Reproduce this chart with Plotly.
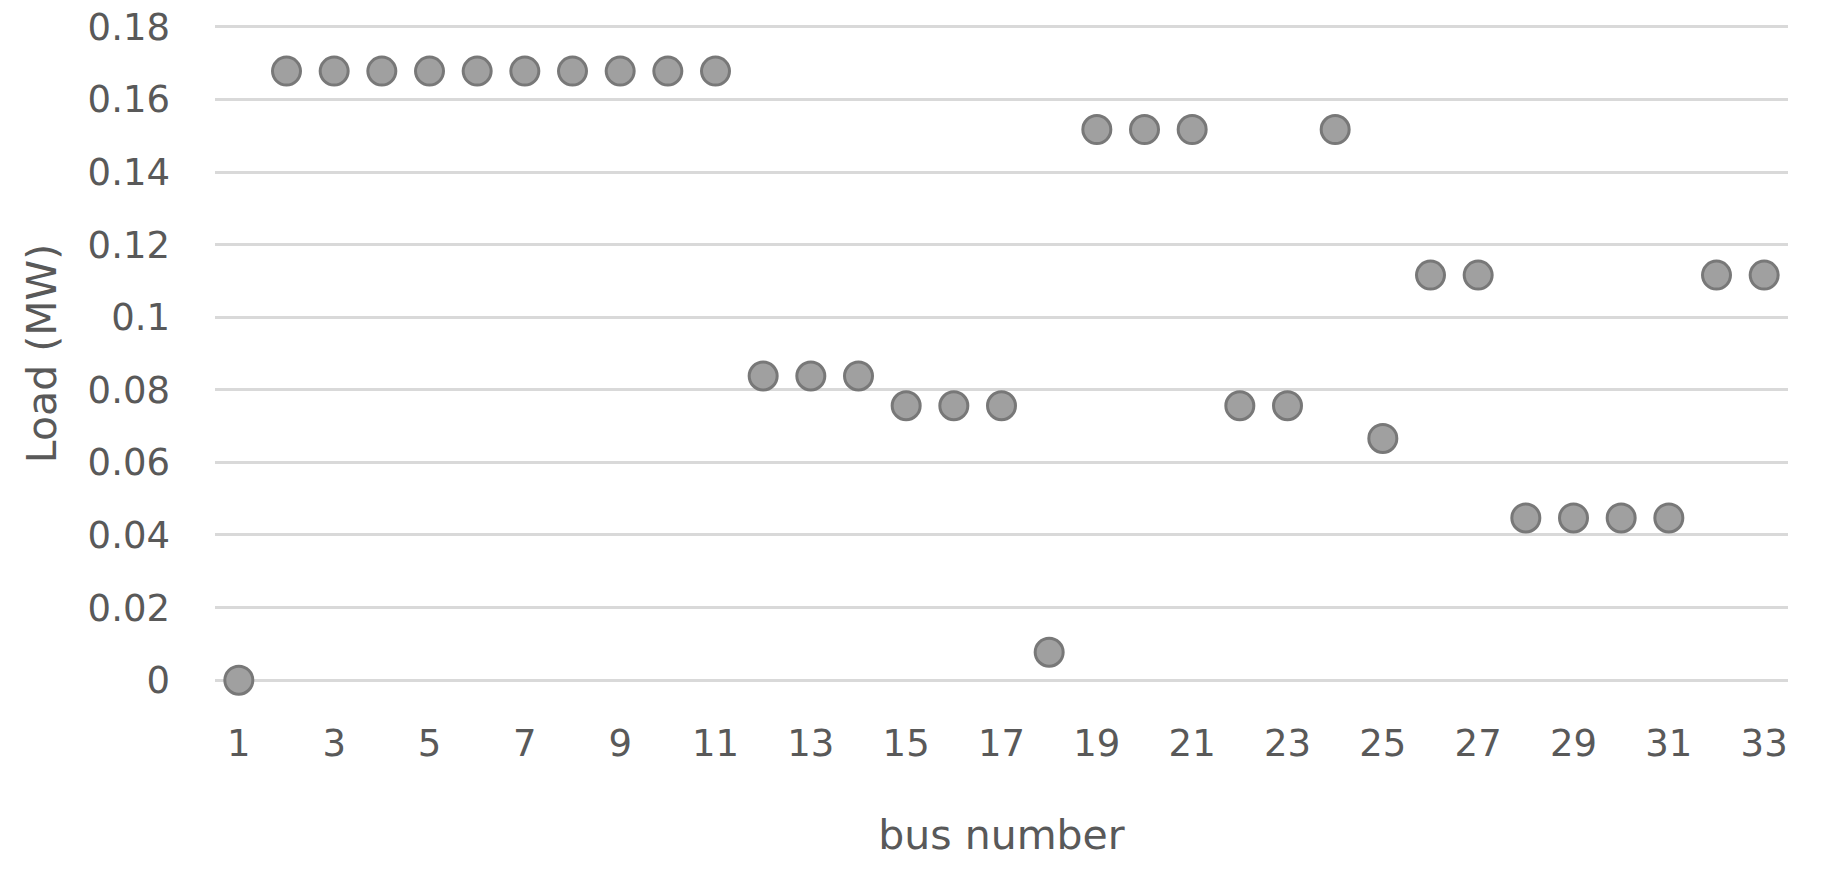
import plotly.graph_objects as go

# bus numbers and load per bus (MW)
bus = [1, 2, 3, 4, 5, 6, 7, 8, 9, 10, 11, 12, 13, 14, 15, 16, 17,
       18, 19, 20, 21, 22, 23, 24, 25, 26, 27, 28, 29, 30, 31, 32, 33]
load_mw = [0.0, 0.1678, 0.1678, 0.1678, 0.1678, 0.1678, 0.1678, 0.1678, 0.1678, 0.1678, 0.1678,
           0.0838, 0.0838, 0.0838, 0.0756, 0.0756, 0.0756,
           0.0077, 0.1517, 0.1517, 0.1517, 0.0756, 0.0756, 0.1517, 0.0666,
           0.1116, 0.1116, 0.0447, 0.0447, 0.0447, 0.0447, 0.1116, 0.1116]

x_ticks = [1, 3, 5, 7, 9, 11, 13, 15, 17, 19, 21, 23, 25, 27, 29, 31, 33]
y_ticks = [0, 0.02, 0.04, 0.06, 0.08, 0.1, 0.12, 0.14, 0.16, 0.18]
y_labels = ["0", "0.02", "0.04", "0.06", "0.08", "0.1", "0.12", "0.14", "0.16", "0.18"]

txt = "#595959"

fig = go.Figure(go.Scatter(
    x=bus, y=load_mw, mode="markers",
    marker=dict(size=28, color="#a0a0a0", line=dict(color="#787878", width=3)),
    cliponaxis=False,
))

# page body has an 8px default margin, so margins are shifted to compensate
fig.update_layout(
    width=1826, height=869,
    margin=dict(l=207, r=46, t=17, b=195),
    plot_bgcolor="white", paper_bgcolor="white",
    font=dict(family="DejaVu Sans", color=txt),
    showlegend=False,
)
fig.update_xaxes(
    range=[0.5, 33.5], tickvals=x_ticks, showgrid=False, zeroline=False,
    showline=False, ticks="", ticklabelstandoff=36, automargin=False,
    tickfont=dict(size=37, color=txt),
    title=dict(text="bus number", font=dict(size=41, color=txt), standoff=56),
)
# range padded a little so the 0.18 gridline isn't dropped at the edge
fig.update_yaxes(
    range=[-0.0005, 0.1805], tickvals=y_ticks, ticktext=y_labels,
    showgrid=True, gridcolor="#d9d9d9", gridwidth=2.5, zeroline=False,
    ticks="", ticklabelstandoff=44, automargin=False, ticklabeloverflow="allow",
    tickfont=dict(size=37, color=txt),
    title=dict(text="Load (MW)", font=dict(size=41, color=txt), standoff=18),
)

fig.write_html("out.html")
